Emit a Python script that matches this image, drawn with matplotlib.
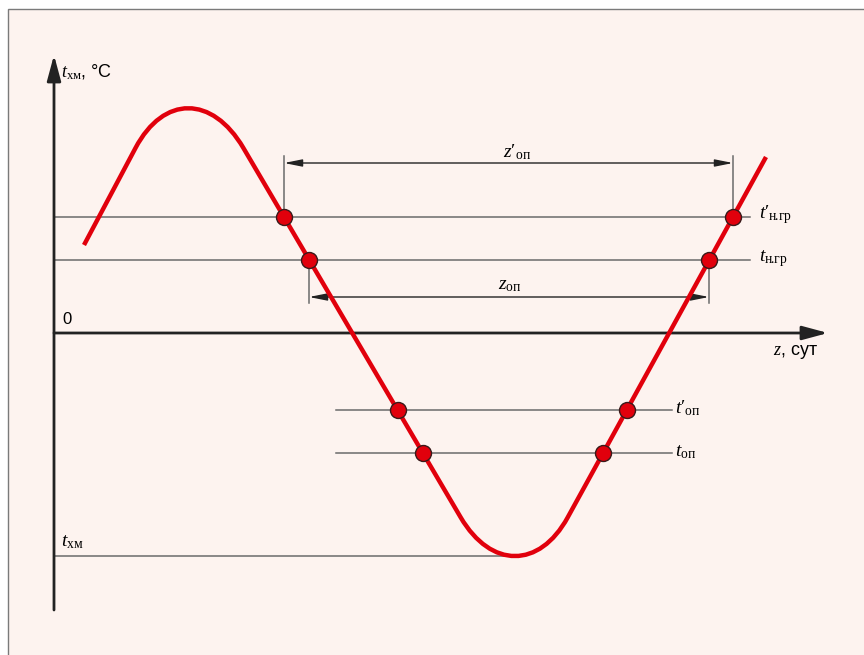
import numpy as np
import matplotlib
import matplotlib.pyplot as plt
from matplotlib.path import Path
from matplotlib.patches import PathPatch, Rectangle
matplotlib.use('Agg')

plt.rcParams['mathtext.fontset'] = 'custom'
plt.rcParams['mathtext.rm'] = 'Liberation Serif'
plt.rcParams['mathtext.it'] = 'Liberation Serif:italic'
plt.rcParams['font.family'] = ['Liberation Sans', 'DejaVu Sans']

# temperature curve: straight runs joined by rounded crest and trough (knots + bezier handles)
curve_pts = [(30, 88), (81.5, 185), (109.6, 238.0), (158.2, 238.0), (189.4, 185),
             (406.7, -184.4), (437.1, -235.9), (485.3, -235.9), (513.7, -184.4), (712, 176)]
curve_codes = [Path.MOVETO, Path.LINETO, Path.CURVE4, Path.CURVE4, Path.CURVE4,
               Path.LINETO, Path.CURVE4, Path.CURVE4, Path.CURVE4, Path.LINETO]

# temperature levels
t_ngr_p = 116
t_ngr = 73
t_op_p = -77
t_op = -120
t_hm = -223
t_hm_z = 459

# crossing points of the curve with the levels (falling, rising)
cross_z = [230, 255, 344, 369, 549, 573, 655, 679]
cross_t = [t_ngr_p, t_ngr, t_op_p, t_op, t_op, t_op_p, t_ngr, t_ngr_p]

red = '#e1000c'
grey = '#6a6a6a'
dark = '#222222'

fig = plt.figure(figsize=(8.64, 6.55), dpi=100)
ax = fig.add_axes([0, 0, 1, 1])
ax.set_xlim(-54, 810)
ax.set_ylim(-322, 333)
ax.axis('off')

ax.add_patch(Rectangle((-46, -340), 900, 664, facecolor='#fdf3ef', edgecolor='#7a7a7a', lw=1.0, zorder=0))

# level lines
ax.plot([0, 696], [t_ngr_p, t_ngr_p], color=grey, lw=1.1)
ax.plot([0, 696], [t_ngr, t_ngr], color=grey, lw=1.1)
ax.plot([282, 618], [t_op_p, t_op_p], color=grey, lw=1.1)
ax.plot([282, 618], [t_op, t_op], color=grey, lw=1.1)
ax.plot([0, t_hm_z], [t_hm, t_hm], color=grey, lw=1.1)

# extension lines for the duration dimensions
ax.plot([cross_z[0], cross_z[0]], [t_ngr_p, 177], color=grey, lw=1.1)
ax.plot([cross_z[7], cross_z[7]], [t_ngr_p, 177], color=grey, lw=1.1)
ax.plot([cross_z[1], cross_z[1]], [t_ngr, 30], color=grey, lw=1.1)
ax.plot([cross_z[6], cross_z[6]], [t_ngr, 30], color=grey, lw=1.1)

dim = dict(arrowstyle='<|-|>,head_length=0.9,head_width=0.18', color=dark, lw=1.0,
           shrinkA=0, shrinkB=0, mutation_scale=12)
ax.annotate('', xy=(cross_z[7], 170), xytext=(cross_z[0], 170), arrowprops=dim)
ax.annotate('', xy=(cross_z[6], 36), xytext=(cross_z[1], 36), arrowprops=dim)
ax.text(463, 181, r"$z′_{\mathrm{оп}}$", fontsize=14, ha='center', va='center')
ax.text(456, 48, r"$z_{\mathrm{оп}}$", fontsize=14, ha='center', va='center')

# axes with arrows
ax_arrow = dict(arrowstyle='-|>,head_length=1.3,head_width=0.35', color=dark, lw=2.0,
                shrinkA=0, shrinkB=0, mutation_scale=12)
ax.annotate('', xy=(0, 278), xytext=(0, -277), arrowprops=ax_arrow)
ax.annotate('', xy=(774, 0), xytext=(0, 0), arrowprops=ax_arrow)

# curve and crossing points
ax.add_patch(PathPatch(Path(curve_pts, curve_codes), facecolor='none', edgecolor=red,
                       lw=3.2, capstyle='butt', joinstyle='round', zorder=3))
ax.plot(cross_z, cross_t, 'o', ms=11.5, mfc=red, mec='#3a1a1a', mew=1.0, zorder=4)

# labels
ax.text(7, 261, r"$t_{\mathrm{хм}}$, °C", fontsize=13, ha='left', va='center')
ax.text(8, 13, '0', fontsize=12, ha='left', va='center')
ax.text(719, -19, r"$z$, сут", fontsize=13, ha='left', va='center')
ax.text(705, t_ngr_p + 2, r"$t′_{\mathrm{н\!.\!гр}}$", fontsize=14, ha='left', va='center')
ax.text(705, t_ngr + 1, r"$t_{\mathrm{н\!.\!гр}}$", fontsize=14, ha='left', va='center')
ax.text(621, t_op_p + 2, r"$t′_{\mathrm{оп}}$", fontsize=14, ha='left', va='center')
ax.text(621, t_op + 1, r"$t_{\mathrm{оп}}$", fontsize=14, ha='left', va='center')
ax.text(7, t_hm + 14, r"$t_{\mathrm{хм}}$", fontsize=14, ha='left', va='center')

plt.savefig('out.png', dpi=100, facecolor='white')
